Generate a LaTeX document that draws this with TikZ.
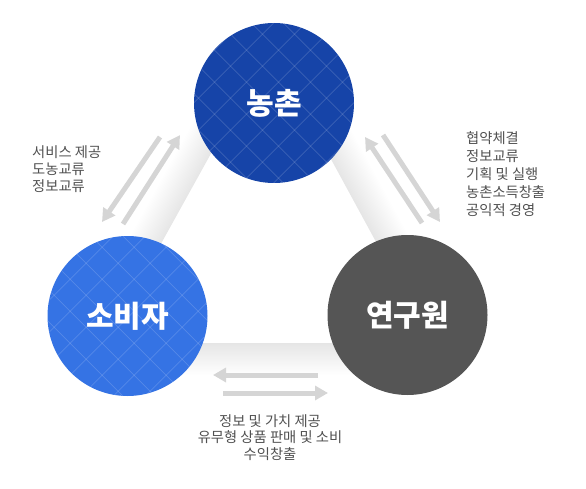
\documentclass[tikz,border=0pt]{standalone}
\usepackage{fontspec}
\setmainfont{Noto Sans CJK KR}
\usetikzlibrary{arrows.meta}

\definecolor{farmblue}{HTML}{1644A8}
\definecolor{userblue}{HTML}{3573E4}
\definecolor{labgray}{HTML}{555555}
\definecolor{flowgray}{HTML}{D5D5D5}
\definecolor{notegray}{HTML}{505050}

\begin{document}
\begin{tikzpicture}[x=1pt, y=1pt,
    hub/.style={circle, minimum size=160pt, inner sep=0pt, text=white,
      font=\fontsize{30}{33}\selectfont\bfseries},
    checker/.style={path picture={
        \begin{scope}[shift={(path picture bounding box.center)}]
          \foreach \k in {-8,...,8} {
            \draw[white, opacity=0.16, line width=0.7pt] (-140,\k*32-140) -- (140,\k*32+140);
            \draw[white, opacity=0.16, line width=0.7pt] (-140,\k*32+140) -- (140,\k*32-140);
          }
        \end{scope}}},
    flow/.style={line width=5pt, flowgray, -{Triangle[width=14pt,length=13pt]}},
    note/.style={text=notegray, inner sep=0pt, align=left, font=\fontsize{14.3}{17}\selectfont},
    band/.style={bottom color=gray!20, top color=white}]

    \useasboundingbox (0,0) rectangle (586,488);

    % shaded bands of the triangle
    \begin{scope}[transform canvas={shift={(188,293)}, rotate=61}]
        \shade[band] (-170,0) rectangle (170,32);
    \end{scope}
    \begin{scope}[transform canvas={shift={(350.5,293)}, rotate=-61.45}]
        \shade[band] (-170,0) rectangle (170,32);
    \end{scope}
    \begin{scope}[transform canvas={shift={(268.5,145)}, rotate=180}]
        \shade[band] (-170,0) rectangle (170,32);
    \end{scope}

    \node[hub, checker, fill=farmblue] (farm) at (274,385) {농촌};
    \node[hub, checker, fill=userblue] (user) at (127.5,172) {소비자};
    \node[hub, fill=labgray] (lab) at (407.5,173) {연구원};

    \coordinate (fu1) at (160,351);
    \coordinate (fu2) at (102,266);
    \coordinate (uf1) at (123,264);
    \coordinate (uf2) at (180,353);
    \coordinate (lf1) at (422,265);
    \coordinate (lf2) at (365,351);
    \coordinate (fl1) at (383,353);
    \coordinate (fl2) at (440,266);
    \coordinate (lu1) at (318,113);
    \coordinate (lu2) at (213,113);
    \coordinate (ul1) at (223,95);
    \coordinate (ul2) at (328,95);

    \draw[flow] (fu1) -- (fu2);
    \draw[flow] (uf1) -- (uf2);
    \draw[flow] (lf1) -- (lf2);
    \draw[flow] (fl1) -- (fl2);
    \draw[flow] (lu1) -- (lu2);
    \draw[flow] (ul1) -- (ul2);

    \node[note, anchor=north west] (usernote) at (32,343) {서비스 제공\\도농교류\\정보교류};
    \node[note, anchor=north west, font=\fontsize{14.3}{18}\selectfont] (labnote) at (466,357)
        {협약체결\\정보교류\\기획 및 실행\\농촌소득창출\\공익적 경영};
    \node[note, anchor=north, align=center, font=\fontsize{14.3}{16.5}\selectfont] (tradenote) at (270,74)
        {정보 및 가치 제공\\유무형 상품 판매 및 소비\\수익창출};
\end{tikzpicture}
\end{document}
